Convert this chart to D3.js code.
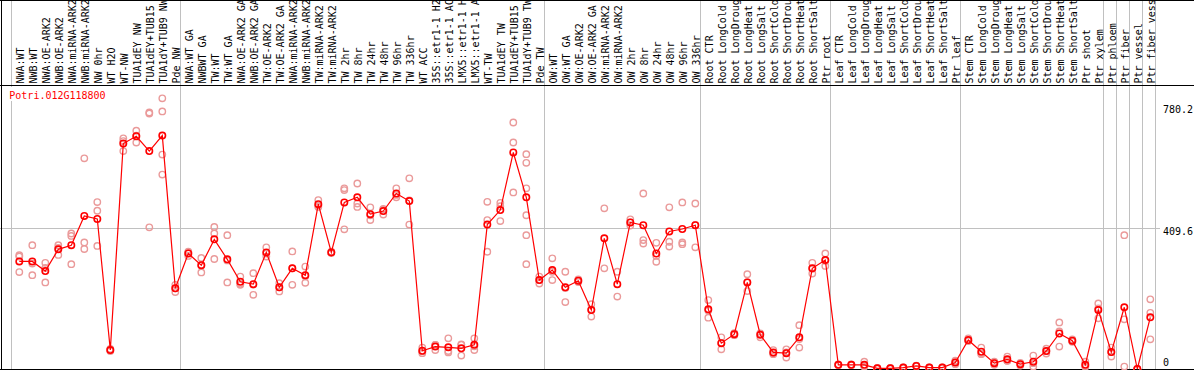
<!DOCTYPE html>
<html><head><meta charset="utf-8">
<script src="https://cdn.jsdelivr.net/npm/d3@7"></script>
<style>html,body{margin:0;padding:0;background:#fff;overflow:hidden;} svg{display:block;}</style>
</head><body>
<script>
const geneId = "Potri.012G118800";
const categories = [
 "NWA:WT","NWB:WT","NWA:OE-ARK2","NWB:OE-ARK2","NWA:miRNA-ARK2","NWB:miRNA-ARK2","NW 0hr","WT H2O","WT-NW","TUA1dEY NW","TUA1dEY+TUB15 NW","TUA1dY+TUB9 NW","Pde NW",
 "NWA:WT GA","NWBWT GA","TW:WT","TW:WT GA","NWA:OE-ARK2 GA","NWB:OE-ARK2 GA","TW:OE-ARK2","TW:OE-ARK2 GA","NWA:miRNA-ARK2 GA","NWB:miRNA-ARK2 GA","TW:miRNA-ARK2","TW:miRNA-ARK2",
 "TW 2hr","TW 8hr","TW 24hr","TW 48hr","TW 96hr","TW 336hr","WT ACC","35S::etr1-1 H2O","35S::etr1-1 ACC","LMX5::etr1-1 H2O","LMX5::etr1-1 ACC","WT-TW","TUA1dEY TW","TUA1dEY+TUB15 TW","TUA1dY+TUB9 TW","Pde TW",
 "OW:WT","OW:WT GA","OW:OE-ARK2","OW:OE-ARK2 GA","OW:miRNA-ARK2","OW:miRNA-ARK2","OW 2hr","OW 8hr","OW 24hr","OW 48hr","OW 96hr","OW 336hr",
 "Root CTR","Root LongCold","Root LongDrought","Root LongHeat","Root LongSalt","Root ShortCold","Root ShortDrought","Root ShortHeat","Root ShortSalt","Ptr root",
 "Leaf CTR","Leaf LongCold","Leaf LongDrought","Leaf LongHeat","Leaf LongSalt","Leaf ShortCold","Leaf ShortDrought","Leaf ShortHeat","Leaf ShortSalt","Ptr leaf",
 "Stem CTR","Stem LongCold","Stem LongDrought","Stem LongHeat","Stem LongSalt","Stem ShortCold","Stem ShortDrought","Stem ShortHeat","Stem ShortSalt","Ptr shoot","Ptr xylem",
 "Ptr phloem","Ptr fiber","Ptr vessel","Ptr fiber vessel"
];
const meanValues = [
 312,312,284,347,359,444,435,55,654,675,632,677,234,
 335,301,376,318,253,246,338,237,292,272,478,338,483,498,449,458,509,487,53,65,63,60,70,419,461,628,498,258,
 287,237,256,171,379,246,425,417,335,399,406,417,
 173,75,101,251,99,48,46,92,292,316,
 12,12,12,2,2,4,9,4,4,19,
 84,50,17,28,14,21,52,103,82,12,171,
 49,179,0,150
];
const replicateValues = [
 [330,326,281],[359,306,272],[308,293,251],[359,351,331],[393,386,304],[611,367,348],[484,459,357],[58,55,52],
 [669,661,632],[691,677,657],[744,741,411],[785,747,622,564],[244,234,223],
 [340,337,328],[322,301,280],[412,393,319],[388,315,251],[268,247,244],[278,245,215],[353,335,326],[249,237,225],
 [341,292,244],[297,269,250],[490,474,470],[340,338,336],[524,519,405],[538,480,470],[469,446,432],[464,462,448],
 [524,505,498],[553,489,419],[62,51,46],[70,70,55],[89,52,48],[71,70,39],[89,66,55],[485,432,340],[482,472,429],
 [715,657,512],[623,598,524,446,388,304],[268,258,248],
 [321,282,258],[282,235,194],[260,256,252],[188,173,152],[466,292],[282,210],[434,425,416],[509,374,364],
 [366,328,311],[469,369,355],[483,367,362],[480,418,353],
 [200,170,149],[92,76,57],[104,101,98],[275,252,226],[103,102,92],[55,46,43],[57,48,33],[127,87,62],[308,291,277],[335,314,299],
 [13,12,11],[13,12,11],[21,8,7],[3,2,1],[3,2,1],[5,4,3],[10,9,8],[5,4,3],[5,4,3],[24,19,14],
 [89,82,81],[62,45,43],[21,18,12],[36,24,24],[18,14,10],[39,17,7],[59,52,45],[135,109,65],[86,81,79],[21,9,6],[190,176,147],
 [62,49,36],[388,144,7],[0,0,0],[202,163,86]
];
const groupStarts = [0,13,41,53,63,73,84,85,86,87,88];
const yTickValues = [780.2, 409.6, 0];
const yTickLabels = ["780.2","409.6","0"];
const gridValues = [409.6];

const W = 1194, H = 370;
const FONT = "'DejaVu Sans Mono', monospace";
const MAX_CHARS = 14; // header column height fits 14 characters
const svg = d3.select("body").append("svg").attr("width", W).attr("height", H);
svg.append("rect").attr("width", W).attr("height", H).attr("fill", "#fff");

const n = categories.length;
const x = d3.scalePoint().domain(d3.range(n)).range([19.3, 1150.3]);
const step = x.step();
const y = d3.scaleLinear().domain([0, 780.2]).range([369, 100]);
const bx = k => (k < n ? x(k) : x(n - 1) + step) - 8.6;

// group separators
svg.append("g").selectAll("line").data(groupStarts).join("line")
  .attr("x1", d => Math.round(bx(d)) + 0.5).attr("x2", d => Math.round(bx(d)) + 0.5)
  .attr("y1", 0).attr("y2", H)
  .attr("stroke", "#c0c0c0").attr("stroke-width", 1);

// horizontal gridline
svg.append("g").selectAll("line").data(gridValues).join("line")
  .attr("x1", 0).attr("x2", 1160)
  .attr("y1", d => Math.round(y(d)) + 0.5).attr("y2", d => Math.round(y(d)) + 0.5)
  .attr("stroke", "#c0c0c0").attr("stroke-width", 1);

// frame lines
const frame = svg.append("g").attr("stroke", "#000").attr("stroke-width", 1);
frame.append("line").attr("x1", 0).attr("x2", W).attr("y1", 0.5).attr("y2", 0.5);
frame.append("line").attr("x1", 0).attr("x2", W).attr("y1", 85.5).attr("y2", 85.5);
frame.append("line").attr("x1", 1.5).attr("x2", 1.5).attr("y1", 0).attr("y2", H);
frame.append("line").attr("x1", 0).attr("x2", W).attr("y1", 369.5).attr("y2", 369.5);

// header labels (the header column shows at most 14 characters, as in the reference)
svg.append("g").selectAll("text").data(categories).join("text")
  .attr("transform", (d, i) => `translate(${x(i) + 4.6},83.5) rotate(-90)`)
  .attr("font-family", FONT).attr("font-size", 10).attr("fill", "#000")
  .text(d => d.length > MAX_CHARS ? d.slice(0, MAX_CHARS).trimEnd() : d);

// title
const tg = svg.append("g");
tg.append("rect").attr("x", 8).attr("y", 87).attr("width", 99).attr("height", 14).attr("fill", "#fff");
tg.append("text").attr("x", 9.3).attr("y", 98.5)
  .attr("font-family", FONT).attr("font-size", 10).attr("fill", "#ff0000").text(geneId);

// replicates
const reps = [];
replicateValues.forEach((arr, i) => arr.forEach(v => reps.push({i, v})));
svg.append("g").selectAll("circle").data(reps).join("circle")
  .attr("cx", d => x(d.i)).attr("cy", d => y(d.v)).attr("r", 3.2)
  .attr("fill", "none").attr("stroke", "#ea9a9a").attr("stroke-width", 1.4);

// mean line
svg.append("path").datum(meanValues)
  .attr("d", d3.line().x((d, i) => x(i)).y(d => y(d)))
  .attr("fill", "none").attr("stroke", "#ff0000").attr("stroke-width", 1.2);

// mean circles
svg.append("g").selectAll("circle").data(meanValues).join("circle")
  .attr("cx", (d, i) => x(i)).attr("cy", d => y(d)).attr("r", 3.2)
  .attr("fill", "none").attr("stroke", "#ff0000").attr("stroke-width", 1.6);

// right labels
const labelDy = v => v === d3.max(yTickValues) ? 13 : (v === 0 ? -3 : 7.5);
svg.append("g").selectAll("text").data(yTickValues).join("text")
  .attr("x", 1163).attr("y", d => y(d) + labelDy(d))
  .attr("font-family", FONT).attr("font-size", 10).attr("fill", "#000")
  .text((d, i) => yTickLabels[i]);
</script>
</body></html>
